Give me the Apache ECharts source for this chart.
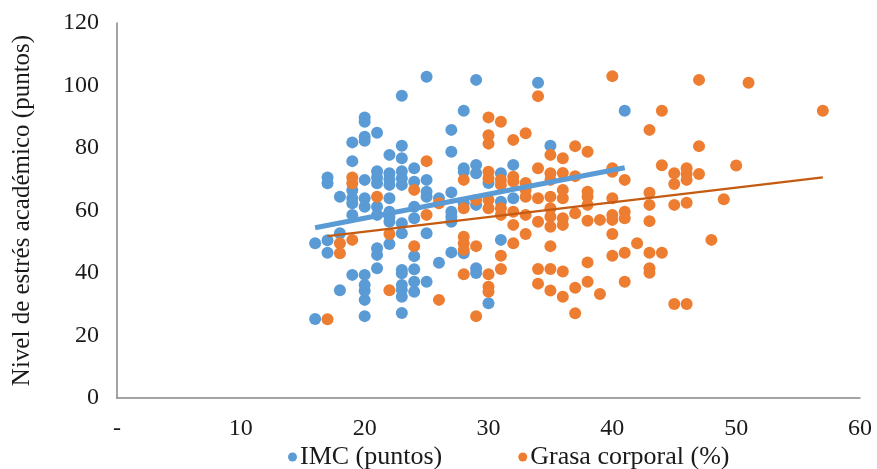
<!DOCTYPE html>
<html>
<head>
<meta charset="utf-8">
<script src="https://cdn.jsdelivr.net/npm/echarts@6/dist/echarts.min.js"></script>
<style>html,body{margin:0;padding:0;background:#fff}#c{width:877px;height:469px}</style>
</head>
<body>
<div id="c"></div>
<script>
const seriesNames = ['IMC (puntos)', 'Grasa corporal (%)'];
const xTickLabels = {0: '-'};

const imcPoints = [
  [16,49.5],[16,25.3],
  [17,70.6],[17,68.7],[17,50.5],[17,46.5],
  [18,64.4],[18,52.7],[18,34.5],
  [19,81.8],[19,75.8],[19,66.5],[19,63.9],[19,62.3],[19,58.6],[19,39.4],
  [20,89.8],[20,88.4],[20,83.6],[20,82.3],[20,69.8],[20,63.9],[20,61.2],[20,39.4],[20,36.2],[20,34.3],[20,31.4],[20,26.2],
  [21,84.9],[21,72.6],[21,70.6],[21,68.7],[21,61.2],[21,58.6],[21,47.9],[21,45.8],[21,41.5],
  [22,77.8],[22,71.9],[22,70],[22,68.2],[22,63.9],[22,59.6],[22,58],[22,56.4],[22,49.3],
  [23,96.7],[23,80.7],[23,76.7],[23,72.6],[23,70.3],[23,68.2],[23,55.9],[23,52.7],[23,41],[23,39.9],[23,36.2],[23,34.6],[23,32.4],[23,27.2],
  [24,73.5],[24,69.2],[24,61.2],[24,57.5],[24,45.4],[24,41.2],[24,37.2],[24,34],
  [25,102.8],[25,69.8],[25,66],[25,64.4],[25,52.7],[25,37.2],
  [26,63.9],[26,43.3],
  [27,85.8],[27,78.8],[27,65.8],[27,59.6],[27,58],[27,56.4],[27,46.6],
  [28,91.9],[28,73.5],[28,72.4],[28,62.3],[28,46.3],
  [29,101.8],[29,74.6],[29,71.9],[29,61.8],[29,41.5],[29,40],
  [30,68.8],[30,30.3],
  [31,71.9],[31,62.8],[31,50.6],
  [32,74.6],[32,63.9],
  [34,100.9],
  [35,80.7],
  [41,91.9]
];

const grasaPoints = [
  [17,25.2],
  [18,49.5],[18,46.3],
  [19,70.6],[19,68.7],[19,50.6],
  [21,64.4],
  [22,52.5],[22,34.5],
  [24,66.6],[24,48.6],
  [25,75.8],[25,58.6],
  [26,62.3],[26,31.4],
  [28,69.8],[28,60.7],[28,51.6],[28,49.5],[28,47.4],[28,39.6],
  [29,63.4],[29,48.6],[29,26.2],
  [30,89.8],[30,84.1],[30,81.4],[30,72.4],[30,70.3],[30,63.4],[30,60.7],[30,39.6],[30,35.6],[30,34],
  [31,88.4],[31,69.8],[31,68.2],[31,60.7],[31,58.6],[31,45.5],[31,41.3],
  [32,82.6],[32,70.8],[32,69.3],[32,59.6],[32,55.4],[32,49.5],
  [33,84.7],[33,68.8],[33,66.6],[33,64.4],[33,58.6],[33,52.5],
  [34,96.6],[34,73.5],[34,63.9],[34,56.4],[34,41.3],[34,36.6],
  [35,77.8],[35,71.9],[35,69.8],[35,64.4],[35,60.7],[35,58],[35,54.8],[35,48.6],[35,41.3],[35,34.4],
  [36,76.7],[36,72],[36,66.6],[36,63.9],[36,57.5],[36,55.4],[36,40.5],[36,32.4],
  [37,80.6],[37,71],[37,59.1],[37,35.3],[37,27.1],
  [38,78.8],[38,66],[38,64.4],[38,61.8],[38,56.7],[38,43.4],[38,37.2],
  [39,57],[39,33.3],
  [40,103],[40,73.5],[40,72.4],[40,63.9],[40,58.6],[40,57],[40,52.5],[40,45.5],
  [41,69.8],[41,59.6],[41,57.5],[41,46.5],[41,37.2],
  [42,49.5],
  [43,85.8],[43,65.7],[43,61.8],[43,56.6],[43,46.5],[43,41.5],[43,40.1],
  [44,91.9],[44,74.5],[44,46.5],
  [45,71.9],[45,68.5],[45,61.8],[45,30.1],
  [46,73.5],[46,71.7],[46,69.8],[46,62.5],[46,30.1],
  [47,101.8],[47,80.6],[47,71.7],
  [48,50.6],
  [49,63.6],
  [50,74.4],
  [51,100.9],
  [57,91.9]
];

const imcTrend = [[16,54.5],[41,73.7]];
const grasaTrend = [[17,51.8],[57,70.6]];

const FONT = 'Liberation Serif';
const chart = echarts.init(document.getElementById('c'), null, {renderer: 'canvas'});
chart.setOption({
  animation: false,
  backgroundColor: '#ffffff',
  grid: {left: 117, right: 17, top: 23, bottom: 71, containLabel: false},
  xAxis: {
    type: 'value', min: 0, max: 60, interval: 10,
    splitLine: {show: false},
    axisTick: {show: false},
    axisLine: {show: true, lineStyle: {color: '#868686', width: 1.5}},
    axisLabel: {
      margin: 19, color: '#1a1a1a', fontFamily: FONT, fontSize: 24,
      formatter: v => (xTickLabels[v] !== undefined ? xTickLabels[v] : String(v))
    }
  },
  yAxis: {
    type: 'value', min: 0, max: 120, interval: 20,
    name: 'Nivel de estrés académico (puntos)',
    nameLocation: 'middle', nameGap: 82, nameRotate: 90,
    nameTextStyle: {color: '#1a1a1a', fontFamily: FONT, fontSize: 25},
    splitLine: {show: false},
    axisTick: {show: false},
    axisLine: {show: true, lineStyle: {color: '#868686', width: 1.5}},
    axisLabel: {margin: 18, color: '#1a1a1a', fontFamily: FONT, fontSize: 24}
  },
  legend: {
    data: seriesNames,
    left: 283, top: 439,
    icon: 'circle', itemWidth: 9, itemHeight: 9, itemGap: 76,
    textStyle: {color: '#1a1a1a', fontFamily: FONT, fontSize: 26, padding: [0,0,0,-2]}
  },
  series: [
    {name: seriesNames[0], type: 'scatter', data: imcPoints, symbolSize: 12,
     itemStyle: {color: '#5B9BD5', opacity: 1}, z: 2},
    {name: seriesNames[1], type: 'scatter', data: grasaPoints, symbolSize: 12,
     itemStyle: {color: '#ED7D31', opacity: 1}, z: 3},
    {name: 'trendIMC', type: 'line', data: imcTrend, showSymbol: false, symbol: 'none',
     lineStyle: {color: '#5B9BD5', width: 5}, z: 4, silent: true},
    {name: 'trendGrasa', type: 'line', data: grasaTrend, showSymbol: false, symbol: 'none',
     lineStyle: {color: '#C55A11', width: 2.5}, z: 5, silent: true}
  ]
});
</script>
</body>
</html>
